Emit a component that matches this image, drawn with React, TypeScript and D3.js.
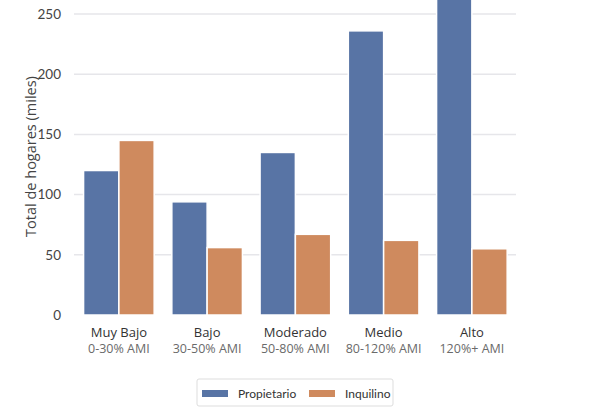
import React from "react";
import * as d3 from "d3";

const categories = ["Muy Bajo", "Bajo", "Moderado", "Medio", "Alto"];
const subLabels = ["0-30% AMI", "30-50% AMI", "50-80% AMI", "80-120% AMI", "120%+ AMI"];
const series = ["Propietario", "Inquilino"];
const propietario = [120, 94, 135, 236, 275];
const inquilino = [145, 56, 67, 62, 55];
const yTicks = [0, 50, 100, 150, 200, 250];
const colors = ["#5874A5", "#CF8A5E"];

export default function App() {
  const W = 608, H = 407;
  const x0 = d3.scaleBand<string>().domain(categories).range([74.75, 516]).paddingInner(0).paddingOuter(0);
  const inner = 0.8 * x0.bandwidth();
  const x1 = d3.scaleBand<string>().domain(series).range([0, inner]);
  const y = d3.scaleLinear().domain([0, 250]).range([315, 14]);
  const font = "Lato, 'Open Sans', sans-serif";
  const font2 = "'Open Sans', sans-serif";
  const data = [propietario, inquilino];
  return (
    <svg width={W} height={H} style={{ position: "absolute", left: 0, top: 0, background: "#fff" }}>
      {yTicks.filter(t => t > 0).map(t => (
        <line key={"g" + t} x1={74} x2={516} y1={y(t)} y2={y(t)} stroke="#e6e6ea" strokeWidth={1.5} />
      ))}
      {yTicks.map(t => (
        <text key={"t" + t} x={61} y={y(t)} dy="0.35em" textAnchor="end" fontFamily={font} fontSize={13.5} fill="#444">{t}</text>
      ))}
      <text transform={`translate(36,${(y(0) + y(250)) / 2 - 8}) rotate(-90)`} textAnchor="middle" fontFamily={font2} fontSize={14.5} fill="#444">Total de hogares (miles)</text>
      {categories.map((c, i) => {
        const gx = x0(c)! + (x0.bandwidth() - inner) / 2;
        return series.map((s, j) => (
          <rect key={c + s} x={gx + x1(s)!} y={y(data[j][i])} width={x1.bandwidth()} height={y(0) - y(data[j][i])}
            fill={colors[j]} stroke="#fff" strokeWidth={1.5} />
        ));
      })}
      {categories.map((c, i) => {
        const cx = x0(c)! + x0.bandwidth() / 2;
        return (
          <g key={"l" + c}>
            <text x={cx} y={337} textAnchor="middle" fontFamily={font2} fontSize={13} fill="#333">{c}</text>
            <text x={cx} y={353} textAnchor="middle" fontFamily={font2} fontSize={12.5} fill="#6a6a6a">{subLabels[i]}</text>
          </g>
        );
      })}
      <rect x={197} y={379} width={196} height={27} fill="#fff" stroke="#ddd" strokeWidth={1} rx={2} />
      {series.map((s, j) => {
        const px = j === 0 ? 202 : 309;
        return (
          <g key={"lg" + s}>
            <rect x={px} y={390} width={26} height={7} fill={colors[j]} />
            <text x={px + 36} y={393.5} dy="0.35em" fontFamily={font} fontSize={12} fill="#333">{s}</text>
          </g>
        );
      })}
    </svg>
  );
}
